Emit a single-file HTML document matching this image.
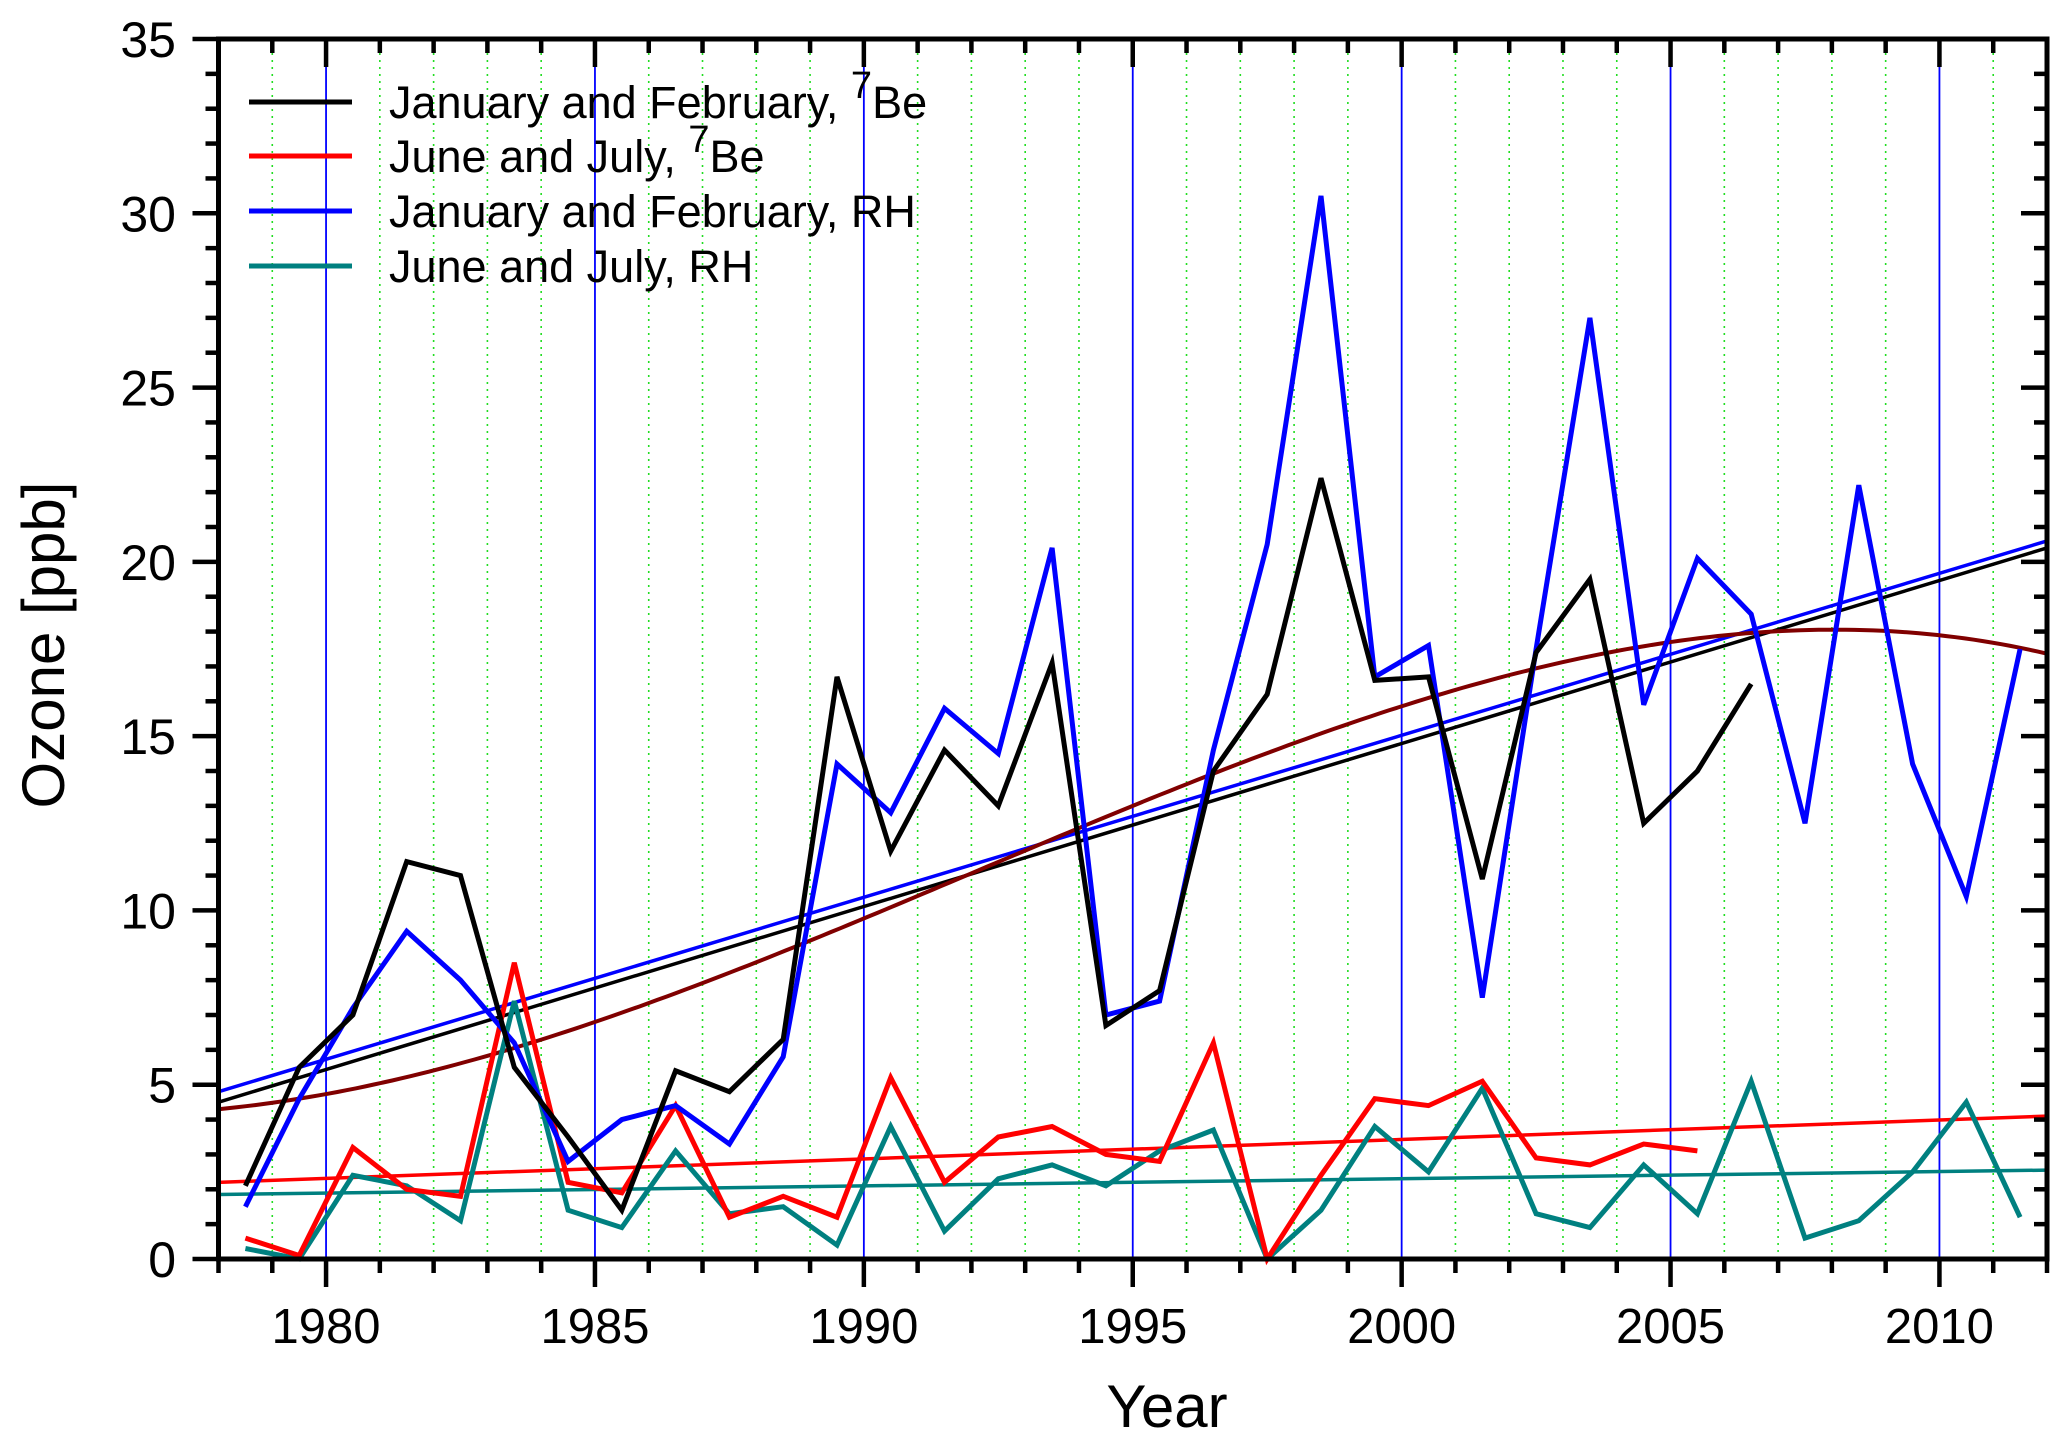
<!DOCTYPE html>
<html><head><meta charset="utf-8"><style>
html,body{margin:0;padding:0;background:#fff;}
svg{display:block;font-family:"Liberation Sans",Arial,sans-serif;}
</style></head><body>
<svg id="chart" width="2067" height="1446" viewBox="0 0 2067 1446">
<g id="grid"></g>
<g id="series"></g>
<g id="axes"></g>
<g id="legend"></g>
<text x="1167" y="1427" font-size="60" text-anchor="middle">Year</text>
<text transform="translate(64,645) rotate(-90)" font-size="60" text-anchor="middle">Ozone [ppb]</text>
</svg>
<script>
const janFebBeYears=[1978.5,1979.5,1980.5,1981.5,1982.5,1983.5,1984.5,1985.5,1986.5,1987.5,1988.5,1989.5,1990.5,1991.5,1992.5,1993.5,1994.5,1995.5,1996.5,1997.5,1998.5,1999.5,2000.5,2001.5,2002.5,2003.5,2004.5,2005.5,2006.5];
const janFebBe=[2.1,5.5,7.0,11.4,11.0,5.5,3.5,1.4,5.4,4.8,6.3,16.7,11.7,14.6,13.0,17.1,6.7,7.7,14.0,16.2,22.4,16.6,16.7,10.9,17.4,19.5,12.5,14.0,16.5];
const janFebRHYears=[1978.5,1979.5,1980.5,1981.5,1982.5,1983.5,1984.5,1985.5,1986.5,1987.5,1988.5,1989.5,1990.5,1991.5,1992.5,1993.5,1994.5,1995.5,1996.5,1997.5,1998.5,1999.5,2000.5,2001.5,2002.5,2003.5,2004.5,2005.5,2006.5,2007.5,2008.5,2009.5,2010.5,2011.5];
const janFebRH=[1.5,4.6,7.2,9.4,8.0,6.2,2.8,4.0,4.4,3.3,5.8,14.2,12.8,15.8,14.5,20.4,7.0,7.4,14.6,20.5,30.5,16.7,17.6,7.5,17.5,27.0,15.9,20.1,18.5,12.5,22.2,14.2,10.4,17.5];
const junJulBeYears=[1978.5,1979.5,1980.5,1981.5,1982.5,1983.5,1984.5,1985.5,1986.5,1987.5,1988.5,1989.5,1990.5,1991.5,1992.5,1993.5,1994.5,1995.5,1996.5,1997.5,1998.5,1999.5,2000.5,2001.5,2002.5,2003.5,2004.5,2005.5];
const junJulBe=[0.6,0.1,3.2,2.0,1.8,8.5,2.2,1.9,4.4,1.2,1.8,1.2,5.2,2.2,3.5,3.8,3.0,2.8,6.2,0.0,2.4,4.6,4.4,5.1,2.9,2.7,3.3,3.1];
const junJulRHYears=janFebRHYears;
const junJulRH=[0.3,0.0,2.4,2.1,1.1,7.4,1.4,0.9,3.1,1.3,1.5,0.4,3.8,0.8,2.3,2.7,2.1,3.1,3.7,0.0,1.4,3.8,2.5,4.9,1.3,0.9,2.7,1.3,5.1,0.6,1.1,2.5,4.5,1.2];
// linear trend endpoints [value at 1978, value at 2012]
const trendJanFebBe=[4.5,20.4];
const trendJanFebRH=[4.8,20.6];
const trendJunJulBe=[2.2,4.1];
const trendJunJulRH=[1.85,2.55];
// cubic fit coefficients in t = year-1995
const polyFit=[13.0,0.630,-0.00750,-0.000850];
const xTicks=[1980,1985,1990,1995,2000,2005,2010];
const yTicks=[0,5,10,15,20,25,30,35];

const NS="http://www.w3.org/2000/svg";
const X0=218.5,X1=2047,Y0=1259,Y1=39,xMin=1978,xMax=2012,yMin=0,yMax=35;
const xs=v=>X0+(v-xMin)/(xMax-xMin)*(X1-X0);
const ys=v=>Y0-(v-yMin)/(yMax-yMin)*(Y0-Y1);
function mk(tag,attrs,parent){const e=document.createElementNS(NS,tag);for(const k in attrs)e.setAttribute(k,attrs[k]);parent.appendChild(e);return e;}
const grid=document.getElementById('grid'),series=document.getElementById('series'),axes=document.getElementById('axes'),legend=document.getElementById('legend');

for(let yr=xMin+1;yr<xMax;yr++){
  const major=yr%5===0;
  const l=mk('line',{x1:xs(yr),x2:xs(yr),y1:Y1,y2:Y0,stroke:major?'#0000ff':'#22dd22','stroke-width':major?1.8:1.6,'stroke-dasharray':major?'none':'2,5'},grid);
  
  
}
function poly(xv,yv,color,w,name){
  const pts=xv.map((x,i)=>xs(x).toFixed(1)+','+ys(yv[i]).toFixed(1)).join(' ');
  const p=mk('polyline',{points:pts,fill:'none',stroke:color,'stroke-width':w,'stroke-linejoin':'miter'},series);
  
  
}
function trend(t,color,name){
  const l=mk('line',{x1:xs(xMin),y1:ys(t[0]),x2:xs(xMax),y2:ys(t[1]),stroke:color,'stroke-width':3.5},series);
  
  
}
trend(trendJunJulRH,'#008080','trend-jun-jul-rh');
trend(trendJunJulBe,'#ff0000','trend-jun-jul-be');
trend(trendJanFebBe,'#000000','trend-jan-feb-be');
trend(trendJanFebRH,'#0000ff','trend-jan-feb-rh');
{
  const pts=[];
  for(let k=0;k<=200;k++){const yr=xMin+(xMax-xMin)*k/200,t=yr-1995;const v=polyFit[0]+polyFit[1]*t+polyFit[2]*t*t+polyFit[3]*t*t*t;pts.push(xs(yr).toFixed(1)+','+ys(v).toFixed(1));}
  const p=mk('polyline',{points:pts.join(' '),fill:'none',stroke:'#800000','stroke-width':4},series);
  
  
}
poly(junJulRHYears,junJulRH,'#008080',5,'line-jun-jul-rh');
poly(junJulBeYears,junJulBe,'#ff0000',5,'line-jun-jul-be');
poly(janFebRHYears,janFebRH,'#0000ff',5,'line-jan-feb-rh');
poly(janFebBeYears,janFebBe,'#000000',5,'line-jan-feb-be');

const frame=mk('rect',{x:X0,y:Y1,width:X1-X0,height:Y0-Y1,fill:'none',stroke:'#000','stroke-width':5},axes);


for(let yr=xMin;yr<=xMax;yr++){
  const major=yr%5===0,len=major?28:14;
  mk('line',{x1:xs(yr),x2:xs(yr),y1:Y0,y2:Y0+len,stroke:'#000','stroke-width':4.5},axes);
  mk('line',{x1:xs(yr),x2:xs(yr),y1:Y1,y2:Y1+len,stroke:'#000','stroke-width':4.5},axes);
}
for(let v=yMin;v<=yMax;v++){
  const major=v%5===0,len=major?26:13;
  mk('line',{x1:X0-len,x2:X0,y1:ys(v),y2:ys(v),stroke:'#000','stroke-width':4.5},axes);
  mk('line',{x1:X1-len,x2:X1,y1:ys(v),y2:ys(v),stroke:'#000','stroke-width':4.5},axes);
}
xTicks.forEach(v=>{
  const t=mk('text',{x:xs(v),y:1343,'font-size':49,'text-anchor':'middle'},axes);t.textContent=v;
  
  
});
yTicks.forEach(v=>{
  const t=mk('text',{x:176,y:ys(v)+18,'font-size':50,'text-anchor':'end'},axes);t.textContent=v;
  
  
});
const legItems=[['January and February, ','Be','#000000'],['June and July, ','Be','#ff0000'],['January and February, RH',null,'#0000ff'],['June and July, RH',null,'#008080']];
const legY=[102,156,211,266];
legItems.forEach((it,i)=>{
  const g=mk('g',{},legend);
  
  
  mk('line',{x1:249,x2:352,y1:legY[i],y2:legY[i],stroke:it[2],'stroke-width':5},g);
  const t=mk('text',{x:389,y:legY[i]+16,'font-size':45},g);
  t.appendChild(document.createTextNode(it[0]));
  if(it[1]){
    const s=document.createElementNS(NS,'tspan');s.setAttribute('dy','-20');s.setAttribute('font-size','38');s.textContent='7';t.appendChild(s);
    const s2=document.createElementNS(NS,'tspan');s2.setAttribute('dy','20');s2.textContent=it[1];t.appendChild(s2);
  }
});
</script>
</body></html>
